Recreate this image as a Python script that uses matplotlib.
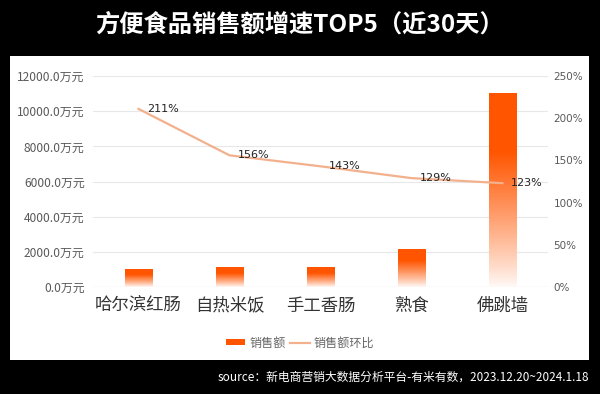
import numpy as np
import matplotlib
matplotlib.use("Agg")
import matplotlib.pyplot as plt
from matplotlib.patches import Rectangle, Patch
from matplotlib.lines import Line2D

plt.rcParams['font.family'] = ['Noto Sans CJK SC', 'DejaVu Sans']
num_font = ['DejaVu Sans', 'Noto Sans CJK SC']

# data
categories = ['哈尔滨红肠', '自热米饭', '手工香肠', '熟食', '佛跳墙']
sales = [1020, 1130, 1100, 2120, 10980]          # 万元
growth = [211, 156, 143, 129, 123]               # %
left_ticks = [0, 2000, 4000, 6000, 8000, 10000, 12000]
right_ticks = [0, 50, 100, 150, 200, 250]

bar_color = np.array([255, 85, 0]) / 255
line_color = '#F3B08C'

fig = plt.figure(figsize=(6, 3.94), dpi=100, facecolor='black')

# white panel
fig.add_artist(Rectangle((10 / 600, 1 - 360 / 394), 579 / 600, 304 / 394,
                         transform=fig.transFigure, facecolor='white',
                         edgecolor='none', zorder=0))

fig.text(0.5, 1 - 25 / 394, '方便食品销售额增速TOP5（近30天）', color='white',
         fontsize=17.5, fontweight='bold', ha='center', va='center')

ax = fig.add_axes([93 / 600, 1 - 287 / 394, 455 / 600, 211 / 394])
ax.set_facecolor('none')

# gradient bars
width = 0.3
n = 256
t = np.linspace(0, 1, n)[:, None]  # 0 bottom -> 1 top
alpha = np.clip(t / 0.7, 0, 1) ** 0.9
alpha = 0.03 + 0.97 * alpha
grad = np.ones((n, 1, 3)) * (1 - alpha[..., None]) + bar_color * alpha[..., None]
for i, v in enumerate(sales):
    ax.imshow(grad, extent=(i - width / 2, i + width / 2, 0, v), origin='lower',
              aspect='auto', zorder=2, interpolation='bilinear')

ax.set_xlim(-0.5, len(categories) - 0.5)
ax.set_ylim(0, 12000)
ax.set_yticks(left_ticks)
ax.set_yticklabels([f'{v:.1f}万元' for v in left_ticks], fontsize=8.6,
                   color='#595959')
ax.set_xticks(range(len(categories)))
ax.set_xticklabels(categories, fontsize=12.5, color='#333333')
ax.grid(axis='y', color='#E8E8E8', linewidth=0.8, zorder=0)
ax.set_axisbelow(True)
for s in ax.spines.values():
    s.set_visible(False)
ax.axhline(0, color='#D8D8D8', linewidth=0.8, zorder=1)
ax.tick_params(length=0)
ax.tick_params(axis='y', pad=6)
ax.tick_params(axis='x', pad=7)

ax2 = ax.twinx()
ax2.plot(range(len(growth)), growth, color=line_color, linewidth=1.6, zorder=3)
for i, g in enumerate(growth):
    ax2.annotate(f'{g}%', (i, g), xytext=(6, 0), textcoords='offset points',
                 ha='left', va='center', fontsize=8, color='#222222',
                 family=num_font)
ax2.set_ylim(0, 250)
ax2.set_yticks(right_ticks)
ax2.set_yticklabels([f'{v}%' for v in right_ticks], fontsize=7.5,
                    color='#595959', family=num_font)
ax2.tick_params(length=0, pad=4)
for s in ax2.spines.values():
    s.set_visible(False)

handles = [Patch(facecolor=bar_color, edgecolor='none'),
           Line2D([0], [0], color=line_color, linewidth=1.6)]
fig.legend(handles, ['销售额', '销售额环比'], loc='center', ncol=2,
           bbox_to_anchor=(0.5, 1 - 343 / 394), frameon=False, fontsize=8.7,
           labelcolor='#666666', handlelength=1.6, handleheight=0.35,
           handletextpad=0.3, columnspacing=0.4)

fig.text(589 / 600, 1 - 377 / 394,
         'source：新电商营销大数据分析平台-有米有数，2023.12.20~2024.1.18',
         color='white', fontsize=8.5, ha='right', va='center')

fig.savefig('out.png', dpi=100, facecolor='black')
